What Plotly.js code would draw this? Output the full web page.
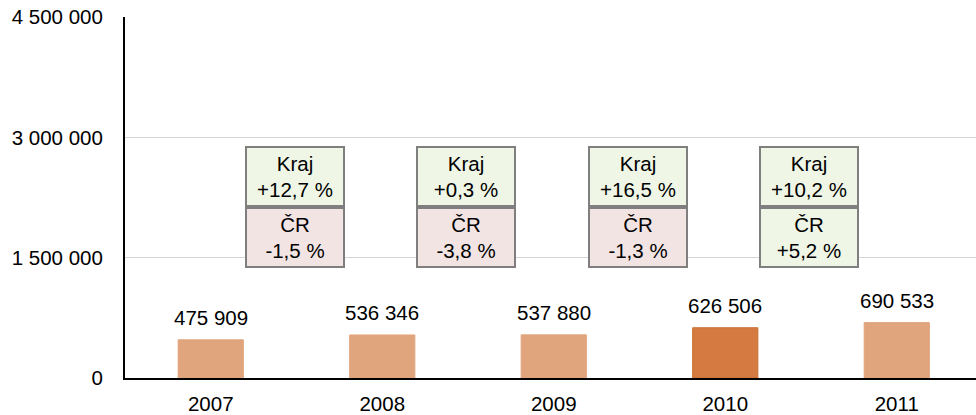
<!DOCTYPE html>
<html>
<head>
<meta charset="utf-8">
<script src="https://cdn.plot.ly/plotly-3.0.1.min.js"></script>
<style>html,body{margin:0;padding:0;background:#fff;}#chart{width:976px;height:415px;}</style>
</head>
<body>
<div id="chart"></div>
<script>
// ---- data ----
const years = ['2007', '2008', '2009', '2010', '2011'];
const values = [475909, 536346, 537880, 626506, 690533];
const highlightYear = '2010';
const krajChange = ['+12,7 %', '+0,3 %', '+16,5 %', '+10,2 %'];
const crChange = ['-1,5 %', '-3,8 %', '-1,3 %', '+5,2 %'];
const yTicks = [0, 1500000, 3000000, 4500000];

// ---- styling ----
const FONT = 'Liberation Sans, Arial, sans-serif';
const FS = 20.5;
const lightBar = '#E1A57E';
const darkBar = '#D57B41';
const posFill = '#EFF6E6';
const negFill = '#F3E4E4';
const boxBorder = '#7F7F7F';

function fmt(v) { return String(v).replace(/\B(?=(\d{3})+(?!\d))/g, ' '); }
function fillFor(s) { return s.trim().charAt(0) === '-' ? negFill : posFill; }

const barColors = years.map(y => y === highlightYear ? darkBar : lightBar);
const barLines = years.map(y => y === highlightYear ? '#C96E33' : lightBar);

const trace = {
  type: 'bar',
  x: years,
  y: values,
  width: 0.38,
  marker: { color: barColors, line: { color: barLines, width: 1 } },
  hoverinfo: 'x+y'
};

const annotations = [];
values.forEach((v, i) => {
  annotations.push({
    x: i, y: v, xref: 'x', yref: 'y',
    text: fmt(v), showarrow: false, yanchor: 'bottom', xanchor: 'center', yshift: 9,
    font: { family: FONT, size: FS, color: '#000' }
  });
});
const divider = 2137000;
krajChange.forEach((k, i) => {
  annotations.push({
    x: i + 0.49, y: divider, xref: 'x', yref: 'y',
    text: 'Kraj<br>' + k, showarrow: false, yanchor: 'bottom', xanchor: 'center',
    width: 96, height: 57, borderpad: 0, borderwidth: 2,
    bordercolor: boxBorder, bgcolor: fillFor(k),
    font: { family: FONT, size: FS, color: '#000' }
  });
  annotations.push({
    x: i + 0.49, y: divider, xref: 'x', yref: 'y',
    text: 'ČR<br>' + crChange[i], showarrow: false, yanchor: 'top', xanchor: 'center',
    width: 96, height: 57, borderpad: 0, borderwidth: 2,
    bordercolor: boxBorder, bgcolor: fillFor(crChange[i]),
    font: { family: FONT, size: FS, color: '#000' }
  });
});

const layout = {
  width: 976, height: 415,
  margin: { l: 125, r: 0, t: 17, b: 37 },
  paper_bgcolor: '#fff', plot_bgcolor: '#fff',
  separators: ', ',
  showlegend: false,
  font: { family: FONT, size: FS, color: '#000' },
  xaxis: {
    type: 'category',
    range: [-0.5, 4.462],
    showline: true, linecolor: '#000', linewidth: 2,
    showgrid: false, zeroline: false,
    ticks: '', ticklabelstandoff: 6,
    tickfont: { family: FONT, size: FS, color: '#000' }
  },
  yaxis: {
    range: [0, 4500000],
    tickvals: yTicks,
    ticktext: yTicks.map(fmt),
    showline: true, linecolor: '#000', linewidth: 2,
    showgrid: true, gridcolor: '#D4D4D4', gridwidth: 1.5,
    zeroline: false,
    ticks: '', ticklabelstandoff: 16,
    tickfont: { family: FONT, size: FS, color: '#000' }
  },
  annotations: annotations
};

Plotly.newPlot('chart', [trace], layout, { displayModeBar: false, staticPlot: true });
</script>
</body>
</html>
